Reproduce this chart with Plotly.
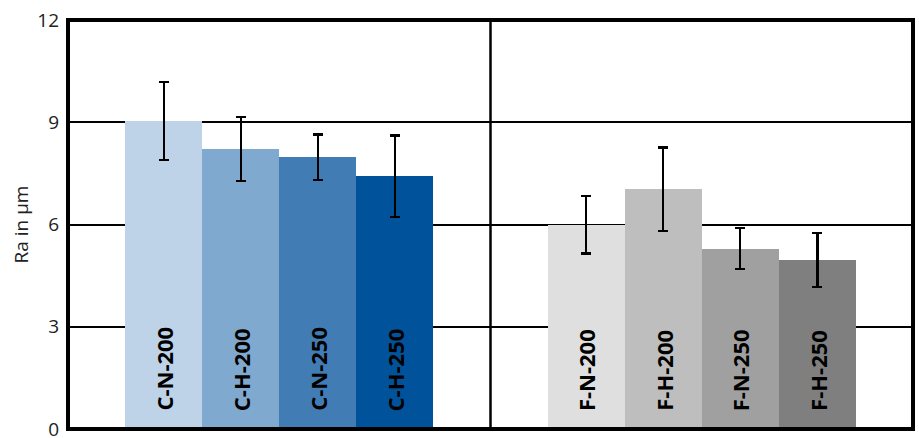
import plotly.graph_objects as go
from plotly.subplots import make_subplots

# Surface roughness Ra (µm), two sample families
c_labels = ["C-N-200", "C-H-200", "C-N-250", "C-H-250"]
c_values = [9.04, 8.21, 7.97, 7.41]
c_errors = [1.15, 0.94, 0.67, 1.20]
c_colors = ["#BED3E8", "#7FA9CE", "#417DB4", "#00529B"]

f_labels = ["F-N-200", "F-H-200", "F-N-250", "F-H-250"]
f_values = [5.99, 7.03, 5.29, 4.96]
f_errors = [0.84, 1.23, 0.60, 0.79]
f_colors = ["#DFDFDF", "#BEBEBE", "#A0A0A0", "#7F7F7F"]

y_ticks = [0, 3, 6, 9, 12]

fig = make_subplots(rows=1, cols=2, shared_yaxes=True, horizontal_spacing=0)

for col, (labels, values, errors, colors) in enumerate(
    [(c_labels, c_values, c_errors, c_colors), (f_labels, f_values, f_errors, f_colors)], start=1
):
    fig.add_trace(
        go.Bar(
            x=labels,
            y=values,
            marker=dict(color=colors, line=dict(width=0)),
            error_y=dict(type="data", array=errors, color="black", thickness=2.2, width=5),
            showlegend=False,
        ),
        row=1, col=col,
    )
    xref = "x" if col == 1 else "x2"
    for lab in labels:
        fig.add_annotation(
            x=lab, y=0, xref=xref, yref="y",
            text=f"<b>{lab}</b>", textangle=-90,
            xanchor="center", yanchor="bottom", yshift=16,
            showarrow=False,
            font=dict(family="Open Sans", size=22, color="black"),
        )

fig.update_xaxes(
    showline=False, showticklabels=False, showgrid=False, zeroline=False, ticks="",
    range=[-1.24, 4.24], automargin=False,
)

fig.update_yaxes(
    range=[0, 12], tickvals=y_ticks, ticktext=[str(v) for v in y_ticks],
    showline=False, showgrid=True, gridcolor="black", gridwidth=1.8, zeroline=False,
    ticks="", tickfont=dict(family="Open Sans", size=19, color="#222"),
    ticklabelstandoff=8, ticklabeloverflow="allow", automargin=False,
)
fig.update_yaxes(
    title=dict(text="Ra in µm", font=dict(family="Open Sans", size=19, color="#222"), standoff=3),
    row=1, col=1,
)

# Frame around the plot area and the divider between the two groups
fig.add_shape(type="rect", xref="paper", yref="paper", x0=0, x1=1, y0=0, y1=1,
              line=dict(color="black", width=4), layer="above")
fig.add_shape(type="line", xref="paper", yref="paper", x0=0.5, x1=0.5, y0=0, y1=1,
              line=dict(color="black", width=2.5), layer="above")

fig.update_layout(
    width=919, height=438,
    margin=dict(l=68, r=6, t=20, b=9),
    bargap=0,
    plot_bgcolor="white", paper_bgcolor="white",
)

fig.write_html("out.html")
